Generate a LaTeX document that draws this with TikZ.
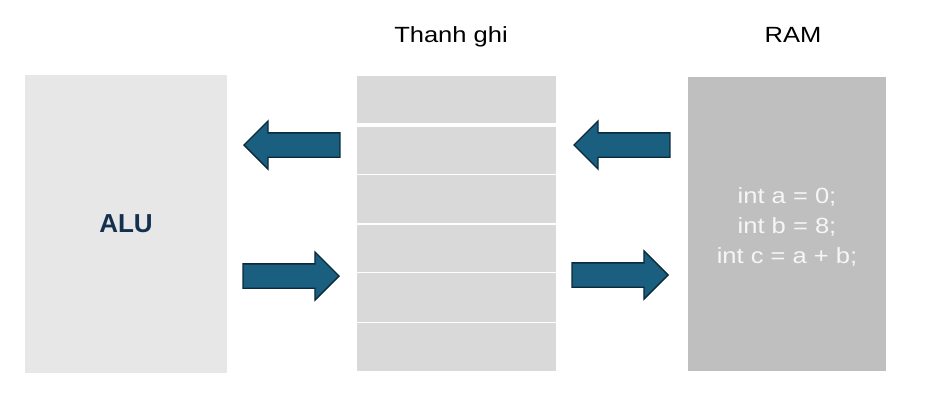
\documentclass[tikz,border=0pt]{standalone}
\usepackage{fontspec}
\usepackage{graphicx}
\setmainfont{Liberation Sans}
\usetikzlibrary{shapes.arrows}
\definecolor{alugray}{HTML}{E7E7E7}
\definecolor{reggray}{HTML}{D9D9D9}
\definecolor{ramgray}{HTML}{BFBFBF}
\definecolor{arrowfill}{HTML}{1A5E80}
\definecolor{arrowline}{HTML}{0B2B3C}
\definecolor{alutext}{HTML}{14304F}
\definecolor{codetext}{HTML}{F6F6F6}
\tikzset{
  box/.style={rectangle, inner sep=0pt, outer sep=0pt, anchor=north west},
  regrow/.style={box, fill=reggray, minimum width=199pt},
  blockarrow/.style={single arrow, fill=arrowfill, draw=arrowline, line width=1.3pt,
    inner xsep=0pt, inner ysep=11.5pt, minimum height=96pt,
    single arrow head extend=12pt, single arrow tip angle=90, anchor=tip},
  title/.style={font=\fontsize{22}{26}\selectfont, anchor=base, text=black, inner sep=0pt},
  code/.style={font=\fontsize{22}{26}\selectfont, anchor=base, text=codetext, inner sep=0pt}
}
\begin{document}
\begin{tikzpicture}[x=1pt,y=-1pt]
\useasboundingbox (0,0) rectangle (925,400);
% ALU
\node[box, fill=alugray, minimum width=202pt, minimum height=298pt] (alu) at (25,75) {};
\node[anchor=base, inner sep=0pt, text=alutext, font=\fontsize{26}{30}\selectfont\bfseries] (alutxt) at (126,232.7) {ALU};
% registers
\node[regrow, minimum height=46.7pt] (r1) at (357,76) {};
\node[regrow, minimum height=46.7pt] (r2) at (357,127.3) {};
\node[regrow, minimum height=48.3pt] (r3) at (357,175) {};
\node[regrow, minimum height=47.6pt] (r4) at (357,224.7) {};
\node[regrow, minimum height=49pt] (r5) at (357,273) {};
\node[regrow, minimum height=48pt] (r6) at (357,323) {};
\node[title] (regtitle) at (451,42.3) {\scalebox{1.16}[1]{Thanh ghi}};
% RAM
\node[box, fill=ramgray, minimum width=198pt, minimum height=294pt] (ram) at (688,77) {};
\node[title] (ramtitle) at (793,42.3) {\scalebox{1.16}[1]{RAM}};
\node[code] (c1) at (787,203.3) {\scalebox{1.16}[1]{int a = 0;}};
\node[code] (c2) at (787,233.3) {\scalebox{1.16}[1]{int b = 8;}};
\node[code] (c3) at (787,263.3) {\scalebox{1.16}[1]{int c = a + b;}};
% arrows
\node[blockarrow, shape border rotate=180] (a1) at (243,145) {};
\node[blockarrow] (a2) at (340,276) {};
\node[blockarrow, shape border rotate=180] (a3) at (573,145) {};
\node[blockarrow] (a4) at (669,275) {};
\end{tikzpicture}
\end{document}
